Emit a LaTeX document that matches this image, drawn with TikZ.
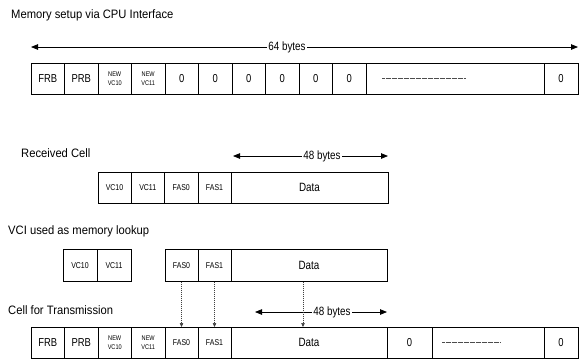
\documentclass[tikz,border=0pt]{standalone}
\usepackage{fontspec}
\setmainfont{Liberation Sans}
\newfontfamily\narrowf[FakeStretch=0.82]{Liberation Sans}
\newfontfamily\titlef[FakeStretch=0.92]{Liberation Sans}
\usetikzlibrary{arrows.meta}
\begin{document}
\begin{tikzpicture}[x=1pt,y=-1pt,
  cell/.style={draw=black, line width=0.8pt, inner sep=0pt, outer sep=0pt, align=center,
    font=\narrowf\fontsize{11.5}{12}\selectfont},
  small/.style={font=\narrowf\fontsize{6.8}{9.5}\selectfont},
  smallb/.style={font=\narrowf\fontsize{8.5}{10}\selectfont},
  datat/.style={font=\narrowf\fontsize{12}{12}\selectfont},
  ttl/.style={anchor=west, inner sep=0pt, font=\titlef\fontsize{12.2}{13}\selectfont},
  dim/.style={line width=0.8pt, {Triangle[length=7pt,width=5.5pt]}-{Triangle[length=7pt,width=5.5pt]}},
  lbl/.style={fill=white, inner sep=1.5pt, font=\narrowf\fontsize{12}{12}\selectfont},
  dotarrow/.style={draw=black!75, line width=0.5pt, dash pattern=on 1pt off 1pt, -{Triangle[length=4pt,width=3.5pt]}},
  dotsline/.style={draw=black!70, line width=0.4pt, dash pattern=on 0.6pt off 0.6pt}
]
\useasboundingbox (0,0) rectangle (585,360);

% ---------- Titles
\node[ttl] (h1) at (11,15) {Memory setup via CPU Interface};
\node[ttl] (h2) at (21,153) {Received Cell};
\node[ttl] (h3) at (8,231) {VCI used as memory lookup};
\node[ttl] (h4) at (8,310) {Cell for Transmission};

% ---------- Top row (y 63-94)
\node[cell, minimum width=33.5, minimum height=31] (t1) at (47.75,78.5) {FRB};
\node[cell, minimum width=33.5, minimum height=31] (t2) at (81.25,78.5) {PRB};
\node[cell, small, minimum width=33.5, minimum height=31] (t3) at (114.75,78.5) {NEW\\VC10};
\node[cell, small, minimum width=33.5, minimum height=31] (t4) at (148.25,78.5) {NEW\\VC11};
\node[cell, minimum width=33.5, minimum height=31] (t5) at (181.75,78.5) {0};
\node[cell, minimum width=33.5, minimum height=31] (t6) at (215.25,78.5) {0};
\node[cell, minimum width=33.5, minimum height=31] (t7) at (248.75,78.5) {0};
\node[cell, minimum width=33.5, minimum height=31] (t8) at (282.25,78.5) {0};
\node[cell, minimum width=33.5, minimum height=31] (t9) at (315.75,78.5) {0};
\node[cell, minimum width=33.5, minimum height=31] (t10) at (349.25,78.5) {0};
\node[cell, minimum width=178, minimum height=31] (t11) at (455,78.5) {};
\node[cell, minimum width=34, minimum height=31] (t12) at (561,78.5) {0};
\draw[dotsline] ([xshift=16]t11.west) -- ++(83,0);

\coordinate (a64l) at (31,47);
\coordinate (a64r) at (578,47);
\draw[dim] (a64l) -- node[lbl, pos=0.468] (l64) {64 bytes} (a64r);

% ---------- Received cell (y 172-203)
\node[cell, smallb, minimum width=33, minimum height=31] (r1) at (114.5,187.5) {VC10};
\node[cell, smallb, minimum width=33.5, minimum height=31] (r2) at (147.75,187.5) {VC11};
\node[cell, smallb, minimum width=33.5, minimum height=31] (r3) at (181.25,187.5) {FAS0};
\node[cell, smallb, minimum width=33, minimum height=31] (r4) at (214.5,187.5) {FAS1};
\node[cell, datat, minimum width=157, minimum height=31] (r5) at (309.5,187.5) {Data};

\coordinate (a48l) at (233,156);
\coordinate (a48r) at (388,156);
\draw[dim] (a48l) -- node[lbl, pos=0.574] (l48a) {48 bytes} (a48r);

% ---------- Lookup (y 249-282)
\node[cell, smallb, minimum width=34, minimum height=32] (k1) at (80,265.5) {VC10};
\node[cell, smallb, minimum width=34, minimum height=32] (k2) at (114,265.5) {VC11};
\node[cell, smallb, minimum width=33, minimum height=32] (k3) at (181.5,265.5) {FAS0};
\node[cell, smallb, minimum width=33, minimum height=32] (k4) at (214.5,265.5) {FAS1};
\node[cell, datat, minimum width=156, minimum height=32] (k5) at (309,265.5) {Data};

% ---------- Transmission row (y 327-358)
\node[cell, minimum width=33.5, minimum height=31] (b1) at (47.75,342.5) {FRB};
\node[cell, minimum width=33.5, minimum height=31] (b2) at (81.25,342.5) {PRB};
\node[cell, small, minimum width=33.5, minimum height=31] (b3) at (114.75,342.5) {NEW\\VC10};
\node[cell, small, minimum width=33.5, minimum height=31] (b4) at (148.25,342.5) {NEW\\VC11};
\node[cell, smallb, minimum width=33, minimum height=31] (b5) at (181.5,342.5) {FAS0};
\node[cell, smallb, minimum width=33, minimum height=31] (b6) at (214.5,342.5) {FAS1};
\node[cell, datat, minimum width=156, minimum height=31] (b7) at (309,342.5) {Data};
\node[cell, minimum width=45, minimum height=31] (b8) at (409.5,342.5) {0};
\node[cell, minimum width=112, minimum height=31] (b9) at (488,342.5) {};
\node[cell, minimum width=34, minimum height=31] (b10) at (561,342.5) {0};
\draw[dotsline] ([xshift=10]b9.west) -- ++(58,0);

\coordinate (a48bl) at (255,312);
\coordinate (a48br) at (387,312);
\draw[dim] (a48bl) -- node[lbl, pos=0.583] (l48b) {48 bytes} (a48br);

% ---------- Dotted transfer arrows
\coordinate (dx) at (303,0);
\draw[dotarrow] (k3.south) -- (b5.north);
\draw[dotarrow] (k4.south) -- (b6.north);
\draw[dotarrow] (k5.south -| dx) -- (b7.north -| dx);
\end{tikzpicture}
\end{document}
